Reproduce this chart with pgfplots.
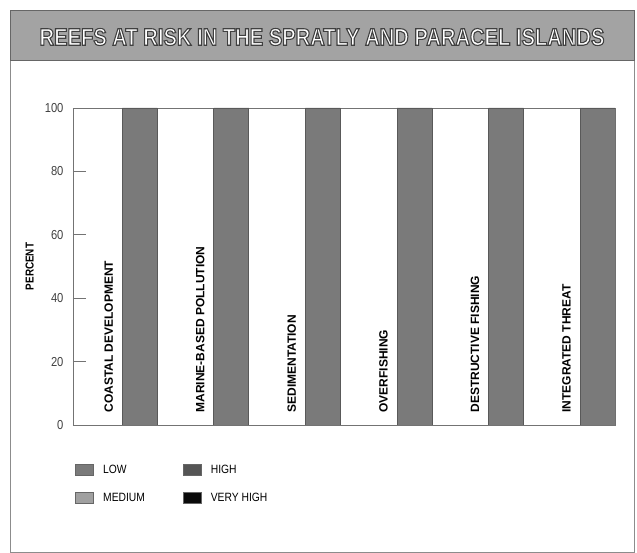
\documentclass[border=0pt]{standalone}
\usepackage{fontspec}
\setmainfont{Liberation Sans}[FakeStretch=0.86]
\newfontfamily\titlefont{Liberation Sans}[FakeStretch=0.84]
\newfontfamily\catfont{Liberation Sans}
\usepackage{pgfplots}
\pgfplotsset{compat=1.18}
\definecolor{lowc}{HTML}{7A7A7A}
\definecolor{medc}{HTML}{A0A0A0}
\definecolor{highc}{HTML}{555555}
\definecolor{vhighc}{HTML}{0A0A0A}
\definecolor{bannerc}{HTML}{A3A3A3}
\newcommand{\ttl}{REEFS AT RISK IN THE SPRATLY AND PARACEL ISLANDS}
\begin{document}
\begin{tikzpicture}
\path (0pt,0pt) rectangle (637pt,553pt);
% outer frame
\draw[black!45, line width=0.8pt] (10pt,1pt) rectangle (634pt,543pt);
% banner
\fill[bannerc] (10pt,493pt) rectangle (634pt,543pt);
\draw[black!60, line width=0.8pt] (10pt,493pt) rectangle (634pt,543pt);
\node[text=white, font=\titlefont\bfseries\fontsize{24}{24}\selectfont] at (322pt,516pt)
  {\special{pdf:literal direct q 2 Tr 1.1 w 0.25 0.25 0.25 RG 1 1 1 rg}\ttl\special{pdf:literal direct Q}};
\begin{axis}[
  at={(73pt,128pt)}, anchor=south west,
  scale only axis, width=542pt, height=317pt,
  ybar stacked, bar width=35pt,
  xmin=-0.73, xmax=5.19, ymin=0, ymax=100,
  xtick=\empty,
  ytick={0,20,40,60,80,100},
  ytick pos=left, tick align=inside,
  major tick length=13pt,
  tick style={black!55, line width=0.6pt},
  axis line style={black!55, line width=0.7pt},
  /pgf/number format/assume math mode=true,
  y tick label style={font=\fontsize{13}{13}\selectfont, text=black!75, xshift=-6pt},
  ylabel={\bfseries PERCENT},
  ylabel style={at={(axis description cs:-0.08,0.5)}, anchor=center, font=\fontsize{11.5}{11.5}\selectfont},
  legend columns=2, transpose legend,
  legend cell align=left,
  legend style={draw=none, fill=none, at={(axis description cs:0.004,-0.12)}, anchor=north west,
    font=\fontsize{12}{12}\selectfont, inner sep=0pt, row sep=14pt,
    /tikz/every odd column/.append style={column sep=7pt},
    /tikz/every even column/.append style={column sep=36pt}},
  legend image code/.code={\draw[#1, draw=black!60, line width=0.8pt] (0pt,-5.5pt) rectangle (18pt,5.5pt);},
]
\addplot[fill=lowc, draw=black!65, line width=0.8pt] coordinates {(0,100) (1,100) (2,100) (3,100) (4,100) (5,100)};
\addlegendentry{LOW}
\addplot[fill=medc, draw=none] coordinates {(0,0) (1,0) (2,0) (3,0) (4,0) (5,0)};
\addlegendentry{MEDIUM}
\addplot[fill=highc, draw=none] coordinates {(0,0) (1,0) (2,0) (3,0) (4,0) (5,0)};
\addlegendentry{HIGH}
\addplot[fill=vhighc, draw=none] coordinates {(0,0) (1,0) (2,0) (3,0) (4,0) (5,0)};
\addlegendentry{VERY HIGH}
\node[rotate=90, anchor=west, font=\catfont\bfseries\fontsize{12}{12}\selectfont] at (axis cs:-0.34,2.8) {COASTAL DEVELOPMENT};
\node[rotate=90, anchor=west, font=\catfont\bfseries\fontsize{12}{12}\selectfont] at (axis cs:0.66,2.8) {MARINE-BASED POLLUTION};
\node[rotate=90, anchor=west, font=\catfont\bfseries\fontsize{12}{12}\selectfont] at (axis cs:1.66,2.8) {SEDIMENTATION};
\node[rotate=90, anchor=west, font=\catfont\bfseries\fontsize{12}{12}\selectfont] at (axis cs:2.66,2.8) {OVERFISHING};
\node[rotate=90, anchor=west, font=\catfont\bfseries\fontsize{12}{12}\selectfont] at (axis cs:3.66,2.8) {DESTRUCTIVE FISHING};
\node[rotate=90, anchor=west, font=\catfont\bfseries\fontsize{12}{12}\selectfont] at (axis cs:4.66,2.8) {INTEGRATED THREAT};
\end{axis}
\end{tikzpicture}
\end{document}
